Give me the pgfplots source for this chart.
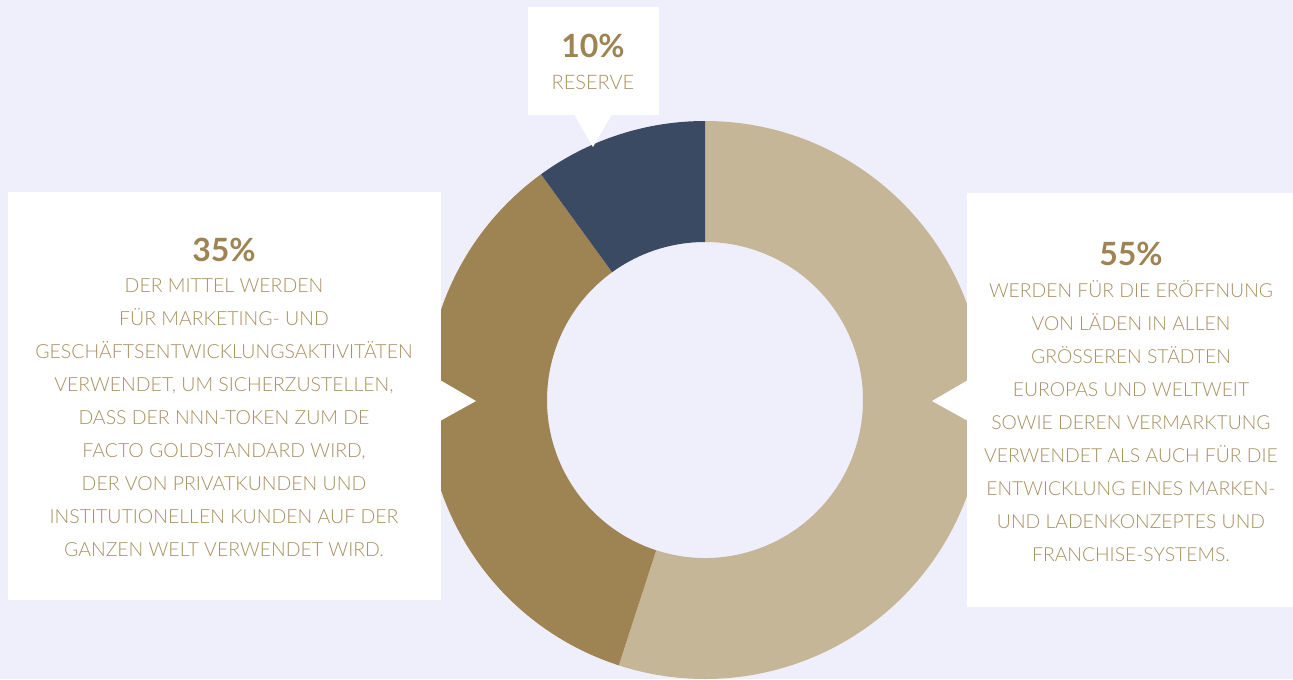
\documentclass[border=0pt]{standalone}
\usepackage{pgfplots}
\pgfplotsset{compat=1.18}
\usepackage{pgfplotstable}
\usepackage{fontspec}
\setmainfont{Lato Light}[BoldFont={Lato Bold}]
\definecolor{bg}{HTML}{EFEEFB}
\definecolor{segA}{HTML}{C6B698}
\definecolor{segB}{HTML}{9E8452}
\definecolor{segC}{HTML}{3A4A62}
\definecolor{pct}{HTML}{9E8452}
\definecolor{txt}{HTML}{A89162}

\pgfplotstableread{
share
55
35
10
}\shares

\newcommand\donutseg[3]{% start angle, value, colour
  \fill[#3] (axis cs:705,400) ++(#1:209.25pt)
    arc[start angle=#1, delta angle={-3.6*#2}, radius=209.25pt]
    -- ++({#1-3.6*#2+180}:90.75pt)
    arc[start angle={#1-3.6*#2}, delta angle={3.6*#2}, radius=118.5pt]
    -- cycle;
}

\begin{document}
\begin{tikzpicture}
\pgfplotstablegetelem{0}{share}\of\shares \let\vA\pgfplotsretval
\pgfplotstablegetelem{1}{share}\of\shares \let\vB\pgfplotsretval
\pgfplotstablegetelem{2}{share}\of\shares \let\vC\pgfplotsretval
\pgfmathsetmacro\aA{90}
\pgfmathsetmacro\aB{90-3.6*\vA}
\pgfmathsetmacro\aC{\aB-3.6*\vB}
\begin{axis}[x=0.75pt, y=0.75pt, xmin=0, xmax=1293, ymin=0, ymax=679,
  y dir=reverse, hide axis, clip=true]
  \fill[bg] (axis cs:0,0) rectangle (axis cs:1293,679);
  \donutseg{\aA}{\vA}{segA}
  \donutseg{\aB}{\vB}{segB}
  \donutseg{\aC}{\vC}{segC}
  % boxes
  \fill[white] (axis cs:528,7) rectangle (axis cs:659,115);
  \fill[white] (axis cs:574,114) -- (axis cs:593,147) -- (axis cs:612,114) -- cycle;
  \fill[white] (axis cs:8,192) rectangle (axis cs:441,600);
  \fill[white] (axis cs:440,380) -- (axis cs:476,401) -- (axis cs:440,421) -- cycle;
  \fill[white] (axis cs:967,193) rectangle (axis cs:1293,607);
  \fill[white] (axis cs:968,380) -- (axis cs:932,401) -- (axis cs:968,421) -- cycle;
  % texts
  \node[font=\bfseries\fontsize{24}{28}\selectfont, text=pct] at (axis cs:593,46) {10\%};
  \node[font=\fontsize{15}{18}\selectfont, text=txt] at (axis cs:593,82) {RESERVE};
  \node[font=\bfseries\fontsize{24}{28}\selectfont, text=pct] at (axis cs:224,250) {35\%};
  \node[font=\fontsize{14.6}{24.75}\selectfont, text=txt, align=center] at (axis cs:224,418) {DER MITTEL WERDEN\\
FÜR MARKETING- UND\\
GESCHÄFTSENTWICKLUNGSAKTIVITÄTEN\\
VERWENDET, UM SICHERZUSTELLEN,\\
DASS DER NNN-TOKEN ZUM DE\\
FACTO GOLDSTANDARD WIRD,\\
DER VON PRIVATKUNDEN UND\\
INSTITUTIONELLEN KUNDEN AUF DER\\
GANZEN WELT VERWENDET WIRD.};
  \node[font=\bfseries\fontsize{24}{28}\selectfont, text=pct] at (axis cs:1131,254) {55\%};
  \node[font=\fontsize{14.5}{24.75}\selectfont, text=txt, align=center] at (axis cs:1131,421) {WERDEN FÜR DIE ERÖFFNUNG\\
VON LÄDEN IN ALLEN\\
GRÖSSEREN STÄDTEN\\
EUROPAS UND WELTWEIT\\
SOWIE DEREN VERMARKTUNG\\
VERWENDET ALS AUCH FÜR DIE\\
ENTWICKLUNG EINES MARKEN-\\
UND LADENKONZEPTES UND\\
FRANCHISE-SYSTEMS.};
\end{axis}
\end{tikzpicture}
\end{document}
